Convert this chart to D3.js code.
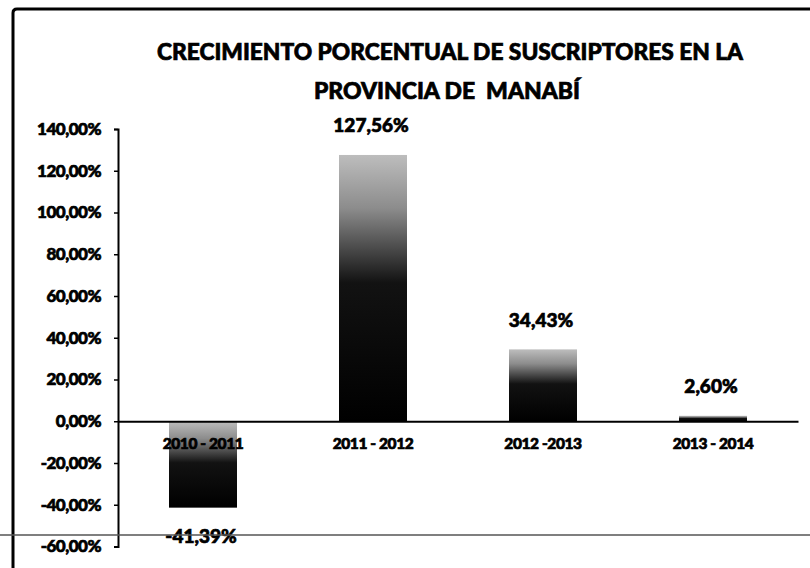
<!DOCTYPE html>
<html>
<head>
<meta charset="utf-8">
<script src="https://cdn.jsdelivr.net/npm/d3@7"></script>
<style>
  html, body { margin: 0; padding: 0; background: #fff; }
  svg { display: block; }
  text { font-family: Lato, "Open Sans", sans-serif; font-weight: 900; fill: #000; stroke: #000; stroke-width: 0.7; paint-order: stroke; }
</style>
</head>
<body>
<svg id="chart" width="810" height="568"></svg>
<script>
// ---- data ----
const titleLines = ["CRECIMIENTO PORCENTUAL DE SUSCRIPTORES EN LA", "PROVINCIA DE  MANABÍ"];
const categories = ["2010 - 2011", "2011 - 2012", "2012 -2013", "2013 - 2014"];
const values = [-41.39, 127.56, 34.43, 2.60];
const valueLabels = ["-41,39%", "127,56%", "34,43%", "2,60%"];
const yTicks = [-60, -40, -20, 0, 20, 40, 60, 80, 100, 120, 140];
const yTickLabels = ["-60,00%", "-40,00%", "-20,00%", "0,00%", "20,00%", "40,00%", "60,00%", "80,00%", "100,00%", "120,00%", "140,00%"];

const svg = d3.select("#chart");
const W = 810, H = 568;

// scales
const x = d3.scaleBand().domain(categories).range([118, 798]).paddingInner(0).paddingOuter(0);
const y = d3.scaleLinear().domain([-60, 140]).range([546.5, 129]);
const barW = x.bandwidth() * 0.4;

// gradient for bars
const defs = svg.append("defs");
const grad = defs.append("linearGradient").attr("id", "barGrad")
  .attr("x1", 0).attr("y1", 0).attr("x2", 0).attr("y2", 1);
grad.append("stop").attr("offset", "0%").attr("stop-color", "#bdbdbd");
grad.append("stop").attr("offset", "20%").attr("stop-color", "#8c8c8c");
grad.append("stop").attr("offset", "48%").attr("stop-color", "#121212");
grad.append("stop").attr("offset", "100%").attr("stop-color", "#000");

// frame (left and top edges)
svg.append("path")
  .attr("d", `M13,${H} L13,13 Q13,9 17,9 L${W},9`)
  .attr("fill", "none").attr("stroke", "#000").attr("stroke-width", 3);

// title
const title = svg.append("g");
title.append("text").attr("x", 450).attr("y", 60).attr("text-anchor", "middle")
  .attr("font-size", 23).attr("textLength", 586).attr("lengthAdjust", "spacingAndGlyphs")
  .text(titleLines[0]);
title.append("text").attr("x", 447).attr("y", 99).attr("text-anchor", "middle")
  .attr("font-size", 23).attr("textLength", 266).attr("lengthAdjust", "spacingAndGlyphs")
  .style("white-space", "pre")
  .text(titleLines[1]);

// bars
const data = categories.map((c, i) => ({ c, v: values[i], label: valueLabels[i] }));
svg.append("g").selectAll("rect").data(data).join("rect")
  .attr("x", d => x(d.c) + (x.bandwidth() - barW) / 2)
  .attr("y", d => y(Math.max(0, d.v)))
  .attr("width", barW)
  .attr("height", d => Math.abs(y(d.v) - y(0)))
  .attr("fill", "url(#barGrad)");

// y axis
const yAxis = svg.append("g").attr("transform", "translate(118,0)")
  .call(d3.axisLeft(y).tickValues(yTicks).tickSize(4).tickPadding(13)
    .tickFormat((d, i) => yTickLabels[i]));
yAxis.select(".domain").attr("stroke", "#000").attr("stroke-width", 2);
yAxis.selectAll(".tick line").attr("stroke", "#000").attr("stroke-width", 1.5);
yAxis.selectAll(".tick text").attr("font-size", 17).attr("font-family", "Lato, sans-serif")
  .attr("font-weight", 900).attr("letter-spacing", -0.5);

// x axis at zero
const xAxis = svg.append("g").attr("transform", `translate(0,${y(0)})`)
  .call(d3.axisBottom(x).tickSize(0).tickPadding(17));
xAxis.select(".domain").attr("stroke", "#000").attr("stroke-width", 2);
xAxis.selectAll(".tick text").attr("font-size", 15.5).attr("font-family", "Lato, sans-serif")
  .attr("font-weight", 900).attr("letter-spacing", -0.4);

// value labels
svg.append("g").selectAll("text").data(data).join("text")
  .attr("x", d => x(d.c) + x.bandwidth() / 2 - 2)
  .attr("y", d => d.v >= 0 ? y(d.v) - 30 : y(d.v) + 28)
  .attr("dominant-baseline", "central")
  .attr("text-anchor", "middle")
  .attr("font-size", 19)
  .text(d => d.label);

// stray horizontal rule across the page
svg.append("line").attr("x1", 0).attr("x2", W).attr("y1", 535).attr("y2", 535)
  .attr("stroke", "#555").attr("stroke-width", 1.5);
</script>
</body>
</html>
